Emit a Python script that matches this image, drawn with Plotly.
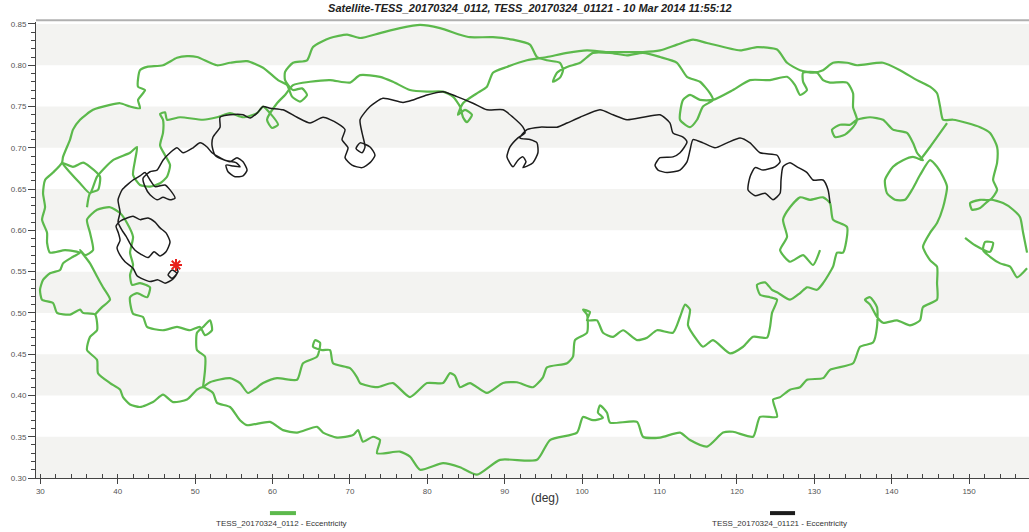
import plotly.graph_objects as go

# ---------------- data (deg, eccentricity) ----------------
title_text = "Satellite-TESS_20170324_0112, TESS_20170324_01121 - 10 Mar 2014 11:55:12"
series_names = ["TESS_20170324_0112 - Eccentricity", "TESS_20170324_01121 - Eccentricity"]

x_ticks = [30, 40, 50, 60, 70, 80, 90, 100, 110, 120, 130, 140, 150]
y_ticks = [0.30, 0.35, 0.40, 0.45, 0.50, 0.55, 0.60, 0.65, 0.70, 0.75, 0.80, 0.85]
band_lo = [0.30, 0.40, 0.50, 0.60, 0.70, 0.80]

# green track, outer loop
g_outer_deg = [51.02, 50.24, 48.95, 47.15, 45.85, 44.56, 42.88, 41.59, 40.68, 40.30, 39.01, 37.45, 37.33, 36.03,
               36.42, 37.33, 37.07, 35.52, 35.13, 33.84, 32.16, 31.64, 30.22, 29.96, 30.35, 31.25, 32.55, 32.93,
               34.22, 35.13, 33.19, 31.25, 30.87, 30.87, 30.22, 30.61, 30.35, 30.61, 31.64, 32.80, 32.93, 33.84,
               34.22, 35.13, 36.81, 39.01, 40.30, 41.59, 42.88, 42.62, 43.53, 42.62, 42.88, 43.79, 45.85, 47.66,
               48.95, 50.24, 52.83, 54.51, 56.71, 58.78, 60.71, 61.87, 62.52, 63.55, 64.46, 63.81, 62.65, 61.62,
               61.62, 62.65, 64.46, 65.23, 67.43, 69.63, 71.31, 73.89, 76.47, 79.06, 81.64, 84.22, 85.51, 88.48,
               91.07, 93.26, 94.17, 95.46, 97.14, 97.53, 97.14, 96.23, 96.75, 98.05, 99.73, 101.41, 103.61,
               105.80, 107.87, 110.07, 112.26, 113.55, 115.23, 116.53, 116.91, 115.62, 114.85, 113.94, 112.65,
               113.04, 113.94, 115.23, 116.91, 119.50, 121.70, 124.28, 126.48, 127.51, 128.16, 129.06, 128.55,
               128.55, 130.35, 131.13, 132.03, 134.23, 135.01, 135.01, 135.52, 135.01, 133.97, 132.68, 132.29,
               133.33, 134.62, 135.52, 137.20, 138.88, 140.17, 141.98, 142.75, 143.27, 144.04, 142.75, 141.46,
               140.17, 139.13, 139.39, 140.43, 141.72, 142.62, 143.66, 144.95, 145.86, 146.64, 147.15, 146.64,
               145.86, 144.95, 144.04, 144.95, 145.86, 145.86, 145.86, 144.04, 143.66, 142.36, 140.68, 138.88,
               138.10, 137.20, 136.55, 137.20, 138.10, 138.10, 137.59, 135.91, 135.01, 132.03, 131.13, 129.06,
               128.16, 126.86, 125.58, 124.67, 125.19, 122.99, 122.09, 119.50, 118.21, 116.14, 113.94, 112.65,
               110.07, 107.87, 107.10, 103.61, 103.22, 102.31, 102.05, 102.70, 101.41, 100.11, 99.34, 95.85,
               94.17, 89.39, 86.41, 84.22, 82.03, 79.06, 77.76, 76.47, 73.50, 73.89, 72.98, 71.69, 71.05, 70.40,
               68.33, 66.53, 65.75, 63.17, 61.36, 59.68, 56.71, 55.80, 54.51, 52.83, 52.31, 51.02]
g_outer_ecc = [0.410, 0.407, 0.395, 0.392, 0.401, 0.392, 0.386, 0.389, 0.398, 0.407, 0.415, 0.427, 0.443, 0.455,
               0.471, 0.479, 0.498, 0.500, 0.504, 0.498, 0.500, 0.512, 0.516, 0.528, 0.540, 0.548, 0.552, 0.560,
               0.568, 0.573, 0.576, 0.573, 0.585, 0.597, 0.613, 0.628, 0.645, 0.661, 0.670, 0.682, 0.689, 0.710,
               0.722, 0.734, 0.746, 0.752, 0.754, 0.750, 0.748, 0.758, 0.770, 0.774, 0.794, 0.798, 0.800, 0.809,
               0.811, 0.810, 0.800, 0.803, 0.805, 0.797, 0.782, 0.776, 0.762, 0.756, 0.764, 0.772, 0.770, 0.782,
               0.792, 0.803, 0.806, 0.822, 0.833, 0.837, 0.833, 0.839, 0.845, 0.849, 0.845, 0.837, 0.834, 0.834,
               0.831, 0.825, 0.810, 0.806, 0.803, 0.794, 0.785, 0.780, 0.791, 0.798, 0.803, 0.815, 0.815,
               0.812, 0.815, 0.810, 0.803, 0.786, 0.780, 0.766, 0.758, 0.750, 0.734, 0.725, 0.734,
               0.758, 0.764, 0.758, 0.758, 0.770, 0.782, 0.782, 0.786, 0.776, 0.764, 0.770, 0.780,
               0.791, 0.791, 0.782, 0.779, 0.779, 0.766, 0.749, 0.734, 0.725, 0.716, 0.713, 0.722,
               0.728, 0.728, 0.734, 0.737, 0.734, 0.722, 0.718, 0.706, 0.694, 0.685, 0.689, 0.685,
               0.677, 0.661, 0.645, 0.637, 0.637, 0.649, 0.667, 0.685, 0.677, 0.665, 0.653, 0.628,
               0.609, 0.597, 0.580, 0.564, 0.556, 0.536, 0.516, 0.507, 0.491, 0.485, 0.491, 0.488,
               0.495, 0.510, 0.516, 0.519, 0.507, 0.483, 0.464, 0.459, 0.439, 0.431, 0.421, 0.419,
               0.410, 0.407, 0.398, 0.395, 0.374, 0.374, 0.350, 0.356, 0.355, 0.338, 0.346, 0.355,
               0.349, 0.350, 0.368, 0.367, 0.379, 0.388, 0.379, 0.373, 0.370, 0.374, 0.355, 0.346,
               0.322, 0.322, 0.304, 0.313, 0.318, 0.310, 0.326, 0.332, 0.330, 0.346, 0.350, 0.344, 0.358, 0.352,
               0.349, 0.355, 0.362, 0.355, 0.358, 0.368, 0.364, 0.370, 0.386, 0.391, 0.403, 0.410]

# green track, inner bottom running to the right-hand cloud
g_inner_deg = [51.02, 51.92, 54.51, 55.80, 56.84, 58.78, 60.58, 63.17, 63.94, 65.75, 66.14, 65.49, 65.23, 66.40,
               67.43, 67.82, 70.01, 70.92, 71.31, 73.50, 75.56, 77.76, 79.96, 82.03, 82.93, 83.57, 84.22, 85.51,
               87.70, 89.78, 91.58, 93.65, 94.94, 95.46, 98.05, 98.82, 99.08, 100.63, 100.63, 100.11, 101.02,
               100.63, 101.93, 102.70, 104.00, 105.29, 107.10, 108.39, 109.68, 111.74, 112.65, 113.30, 113.94,
               113.68, 114.85, 115.62, 116.91, 119.11, 120.80, 122.09, 123.90, 124.28, 124.54, 125.19, 124.28,
               122.99, 122.60, 123.64, 124.54, 125.19, 126.86, 128.16, 129.06, 130.35, 131.13, 132.42, 132.94,
               133.71, 134.23, 132.42, 132.03, 131.13, 129.45, 128.16, 126.86, 125.96, 126.48, 125.58, 126.86,
               128.55, 129.84, 130.74]
g_inner_ecc = [0.410, 0.416, 0.421, 0.415, 0.403, 0.415, 0.421, 0.419, 0.439, 0.447, 0.464, 0.467, 0.459, 0.455,
               0.455, 0.439, 0.433, 0.422, 0.415, 0.410, 0.415, 0.398, 0.415, 0.415, 0.427, 0.424, 0.410, 0.415,
               0.403, 0.415, 0.416, 0.410, 0.422, 0.434, 0.439, 0.447, 0.467, 0.476, 0.498, 0.504, 0.501,
               0.491, 0.491, 0.476, 0.471, 0.479, 0.467, 0.470, 0.479, 0.476, 0.495, 0.510, 0.504,
               0.485, 0.467, 0.459, 0.467, 0.451, 0.459, 0.471, 0.470, 0.483, 0.500, 0.516, 0.519,
               0.522, 0.534, 0.537, 0.528, 0.525, 0.516, 0.524, 0.531, 0.528, 0.536, 0.556, 0.573,
               0.573, 0.604, 0.613, 0.633, 0.640, 0.637, 0.640, 0.628, 0.613, 0.592, 0.576, 0.562,
               0.570, 0.558, 0.576]

# green track, left-hand clouds
g_left_deg = [51.02, 51.28, 51.28, 50.24, 50.24, 51.02, 51.92, 52.18, 51.28, 50.63, 49.34, 47.66, 45.85, 43.79,
              43.27, 41.98, 41.59, 42.49, 43.79, 44.17, 42.88, 41.85, 41.59, 41.98, 41.59, 41.98, 41.20, 40.30,
              39.01, 37.33, 36.03, 36.42, 36.81, 35.78, 35.13, 36.42, 37.33, 38.10, 39.01, 37.97, 37.07]
g_left_ecc = [0.410, 0.431, 0.447, 0.455, 0.476, 0.483, 0.491, 0.479, 0.473, 0.483, 0.479, 0.483, 0.479, 0.483,
              0.495, 0.499, 0.519, 0.524, 0.519, 0.531, 0.536, 0.534, 0.546, 0.558, 0.573, 0.592, 0.609, 0.621,
              0.628, 0.625, 0.613, 0.597, 0.576, 0.570, 0.576, 0.560, 0.544, 0.531, 0.516, 0.507, 0.498]

# green track, inner top becoming the outermost arc on the right
g_top_deg = [36.03, 36.42, 37.45, 37.71, 36.42, 35.52, 34.22, 32.80, 33.84, 35.13, 36.42, 37.33, 39.39, 41.59,
             42.49, 42.24, 41.98, 42.88, 44.17, 45.47, 46.37, 46.76, 46.11, 45.47, 45.85, 45.85, 45.47, 46.11,
             46.37, 48.05, 51.02, 52.83, 54.51, 56.19, 58.00, 58.78, 59.68, 60.71, 59.94, 59.29, 60.58, 61.62,
             62.65, 64.85, 67.43, 70.01, 71.31, 73.89, 75.56, 77.76, 79.96, 82.03, 83.31, 84.22, 84.61, 85.12,
             85.77, 84.87, 83.96, 84.61, 86.41, 87.70, 88.48, 90.29, 92.87, 95.46, 98.05, 100.63, 103.22,
             105.80, 107.87, 110.07, 112.26, 114.33, 116.14, 120.41, 122.60, 125.19, 126.48, 128.16, 129.84,
             131.13, 132.42, 134.23, 135.52, 138.88, 141.07, 143.27, 144.95, 145.86, 146.25, 146.64, 147.93,
             149.74, 151.42, 152.71, 153.62, 153.62, 153.10, 153.62, 152.71, 151.42, 150.13, 150.39, 151.42,
             152.71, 154.39, 155.69, 156.59, 156.98, 157.49]
g_top_ecc = [0.628, 0.645, 0.649, 0.665, 0.677, 0.682, 0.677, 0.682, 0.670, 0.657, 0.645, 0.665, 0.685, 0.694,
             0.701, 0.685, 0.667, 0.655, 0.653, 0.657, 0.665, 0.679, 0.691, 0.703, 0.718, 0.734, 0.741, 0.743,
             0.734, 0.737, 0.734, 0.737, 0.742, 0.737, 0.742, 0.750, 0.742, 0.728, 0.724, 0.734, 0.754, 0.764,
             0.776, 0.780, 0.782, 0.779, 0.788, 0.786, 0.780, 0.770, 0.768, 0.768, 0.762, 0.750, 0.737, 0.731,
             0.740, 0.746, 0.740, 0.754, 0.766, 0.774, 0.791, 0.798, 0.806, 0.810, 0.815, 0.818, 0.816,
             0.816, 0.816, 0.818, 0.825, 0.831, 0.827, 0.818, 0.822, 0.819, 0.803, 0.794, 0.791,
             0.794, 0.803, 0.803, 0.800, 0.803, 0.794, 0.782, 0.774, 0.766, 0.750, 0.734, 0.734,
             0.730, 0.725, 0.718, 0.701, 0.682, 0.661, 0.649, 0.637, 0.637, 0.633, 0.625, 0.627,
             0.637, 0.633, 0.625, 0.616, 0.597, 0.573]

# green track, short link and right-edge pieces
g_link_deg = [143.66, 144.95, 146.25, 147.15]
g_link_ecc = [0.685, 0.701, 0.718, 0.730]
g_edge_deg = [157.49, 156.20, 155.30, 154.01, 152.71, 151.81, 152.07, 153.10, 152.71, 150.77, 149.48]
g_edge_ecc = [0.554, 0.543, 0.556, 0.560, 0.568, 0.576, 0.586, 0.585, 0.574, 0.582, 0.591]

# black track (starts at the current position, marked with the asterisk)
k_deg = [47.53, 47.79, 47.02, 46.50, 47.02, 47.66, 47.15, 46.11, 45.21, 44.17, 43.27, 42.49, 41.98, 40.94, 40.30,
         39.91, 40.30, 40.04, 39.78, 40.30, 41.20, 41.98, 42.88, 43.92, 44.82, 45.47, 46.24, 46.76, 46.24, 45.47,
         44.69, 43.92, 43.01, 42.24, 41.59, 41.07, 40.56, 40.04, 40.30, 40.04, 40.56, 41.33, 41.98, 42.88, 43.53,
         44.17, 44.82, 46.11, 46.76, 47.40, 46.76, 45.85, 45.08, 44.17, 43.53, 43.27, 44.17, 45.08, 45.85, 46.76,
         47.66, 48.44, 49.73, 50.63, 51.54, 52.18, 53.22, 54.51, 55.41, 56.19, 56.71, 56.19, 55.16, 54.25, 53.99,
         54.90, 55.80, 55.28, 53.86, 52.57, 52.18, 52.31, 53.22, 53.22, 54.51, 56.19, 57.10, 58.00, 58.78, 59.68,
         61.36, 63.17, 64.85, 66.53, 68.33, 69.37, 68.98, 69.76, 69.37, 70.27, 71.57, 72.60, 73.24, 72.60, 71.31,
         70.79, 71.57, 71.95, 71.57, 71.31, 72.60, 74.27, 76.86, 78.15, 79.96, 82.03, 83.83, 85.90, 87.70, 89.78,
         91.07, 92.36, 92.62, 91.71, 90.68, 90.29, 91.07, 91.71, 92.36, 92.75, 92.36, 93.65, 94.29, 94.17, 93.26,
         91.97, 92.87, 94.55, 96.75, 98.05, 99.73, 102.31, 104.00, 105.80, 107.87, 110.07, 111.36, 111.74,
         113.04, 113.55, 112.65, 111.74, 110.07, 109.42, 109.81, 110.97, 112.65, 113.55, 113.94, 114.33,
         115.62, 117.17, 118.73, 120.41, 121.70, 122.99, 125.19, 125.58, 124.93, 123.38, 122.35, 121.70,
         121.44, 122.35, 123.64, 124.67, 125.58, 125.70, 125.96, 126.86, 127.77, 129.06, 129.84, 131.13,
         131.78, 132.03]
k_ecc = [0.556, 0.550, 0.542, 0.546, 0.552, 0.548, 0.541, 0.536, 0.540, 0.538, 0.541, 0.545, 0.554, 0.562, 0.570,
         0.579, 0.588, 0.598, 0.605, 0.611, 0.615, 0.617, 0.613, 0.615, 0.610, 0.603, 0.597, 0.586, 0.574, 0.569,
         0.574, 0.567, 0.571, 0.576, 0.584, 0.593, 0.600, 0.610, 0.622, 0.637, 0.649, 0.656, 0.661, 0.666, 0.670,
         0.661, 0.653, 0.655, 0.649, 0.639, 0.637, 0.640, 0.637, 0.643, 0.653, 0.663, 0.671, 0.673, 0.685, 0.694,
         0.700, 0.694, 0.700, 0.706, 0.701, 0.694, 0.688, 0.683, 0.688, 0.683, 0.673, 0.666, 0.665, 0.671, 0.679,
         0.678, 0.677, 0.682, 0.685, 0.691, 0.703, 0.713, 0.725, 0.737, 0.740, 0.740, 0.736, 0.742, 0.750, 0.748,
         0.746, 0.737, 0.730, 0.737, 0.730, 0.722, 0.710, 0.700, 0.688, 0.679, 0.676, 0.682, 0.691, 0.701, 0.706,
         0.699, 0.694, 0.701, 0.718, 0.734, 0.750, 0.760, 0.755, 0.758, 0.764, 0.768, 0.762, 0.754, 0.746, 0.746,
         0.737, 0.725, 0.718, 0.712, 0.701, 0.689, 0.677, 0.685, 0.689, 0.683, 0.676, 0.682, 0.694, 0.706, 0.710,
         0.712, 0.722, 0.725, 0.725, 0.730, 0.737, 0.746, 0.740, 0.734, 0.737, 0.740, 0.730, 0.718,
         0.713, 0.707, 0.694, 0.689, 0.688, 0.679, 0.673, 0.670, 0.673, 0.683, 0.697, 0.710,
         0.706, 0.700, 0.706, 0.712, 0.706, 0.694, 0.691, 0.683, 0.677, 0.673, 0.676, 0.665,
         0.649, 0.642, 0.645, 0.637, 0.645, 0.661, 0.677, 0.682, 0.677, 0.670, 0.661, 0.661,
         0.649, 0.633]

GREEN = "#5cb94c"
BLACK = "#1c1c1c"

fig = go.Figure()

green_parts = [(g_outer_deg, g_outer_ecc), (g_inner_deg, g_inner_ecc), (g_left_deg, g_left_ecc),
               (g_top_deg, g_top_ecc), (g_link_deg, g_link_ecc), (g_edge_deg, g_edge_ecc)]
for xs, ys in green_parts:
    fig.add_trace(go.Scatter(x=xs, y=ys, mode="lines", name=series_names[0],
                             line=dict(color=GREEN, width=2.2, shape="spline", smoothing=0.6),
                             showlegend=False, hoverinfo="skip"))

fig.add_trace(go.Scatter(x=k_deg, y=k_ecc, mode="lines", name=series_names[1],
                         line=dict(color=BLACK, width=1.5, shape="spline", smoothing=0.6),
                         showlegend=False, hoverinfo="skip"))

# current position marker
fig.add_trace(go.Scatter(x=[k_deg[0]], y=[k_ecc[0] + 0.002], mode="markers",
                         marker=dict(symbol="asterisk-open", size=10, color="#e8201c",
                                     line=dict(color="#e8201c", width=2)),
                         showlegend=False, hoverinfo="skip"))

# alternating grey bands
shapes = []
for lo in band_lo:
    shapes.append(dict(type="rect", xref="paper", yref="y", x0=0, x1=1, y0=lo, y1=lo + 0.05,
                       fillcolor="#f3f3f1", line=dict(width=0), layer="below"))
# thin grey frame line on top
shapes.append(dict(type="line", xref="paper", yref="paper", x0=0, x1=1, y0=1.004, y1=1.004,
                   line=dict(color="#b0b0b0", width=2)))
# legend swatches
shapes.append(dict(type="line", xref="paper", yref="paper", x0=0.2356, x1=0.2618, y0=-0.077, y1=-0.077,
                   line=dict(color=GREEN, width=4)))
shapes.append(dict(type="line", xref="paper", yref="paper", x0=0.7392, x1=0.7644, y0=-0.077, y1=-0.077,
                   line=dict(color=BLACK, width=4)))

annotations = [
    dict(text=series_names[0], xref="paper", yref="paper", x=0.2477, y=-0.099, showarrow=False,
         font=dict(size=8, color="#333333"), xanchor="center", yanchor="middle"),
    dict(text=series_names[1], xref="paper", yref="paper", x=0.7492, y=-0.099, showarrow=False,
         font=dict(size=8, color="#333333"), xanchor="center", yanchor="middle"),
    dict(text="(deg)", xref="paper", yref="paper", x=0.5126, y=-0.044, showarrow=False,
         font=dict(size=12, color="#333333"), xanchor="center", yanchor="middle"),
]

fig.update_layout(
    width=1029, height=532,
    margin=dict(l=36, r=0, t=22, b=54),
    paper_bgcolor="white", plot_bgcolor="white",
    font=dict(family="Liberation Sans, Arial, sans-serif", color="#444444"),
    title=dict(text="<b><i>" + title_text + "</i></b>", x=0.515, xanchor="center",
               y=0.985, yanchor="middle", yref="container",
               font=dict(size=11, color="#222222")),
    shapes=shapes, annotations=annotations, showlegend=False,
)

fig.update_xaxes(range=[29.44, 157.74], tickvals=x_ticks, ticks="outside", ticklen=5, tickwidth=1,
                 tickcolor="#444444", showline=True, linecolor="#444444", linewidth=1,
                 showgrid=False, zeroline=False, tickfont=dict(size=8, color="#555555"),
                 minor=dict(dtick=2, tick0=30, ticks="inside", ticklen=4, tickcolor="#444444",
                            showgrid=False))
fig.update_yaxes(range=[0.30, 0.8524], tickvals=y_ticks, tickformat=".2f", ticks="outside", ticklen=7,
                 tickwidth=1, tickcolor="#444444", showline=True, linecolor="#444444", linewidth=1,
                 showgrid=False, zeroline=False, tickfont=dict(size=8, color="#555555"),
                 minor=dict(dtick=0.01, tick0=0.30, ticks="outside", ticklen=4, tickcolor="#444444",
                            showgrid=False))

# the page's default body margin would shift the figure by 8px
fig.write_html("out.html", config={"displayModeBar": False},
               post_script="document.body.style.margin='0px';document.body.style.overflow='hidden';")
